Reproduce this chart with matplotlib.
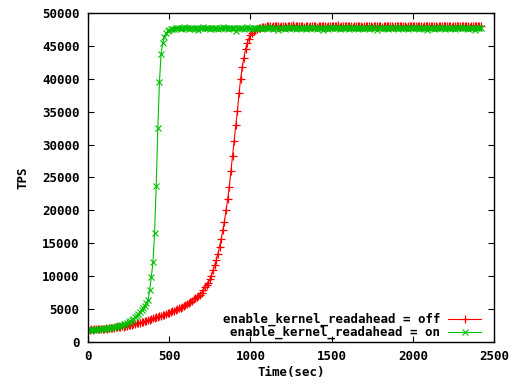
import matplotlib
matplotlib.use("Agg")
import matplotlib.pyplot as plt
from matplotlib.lines import Line2D
import numpy as np

# Sampling interval (sec)
step = 10

# TPS, enable_kernel_readahead = off (sampled every 10 s from t=0)
tps_off = [
    1850, 1800, 1900, 1850, 1950, 1900, 1950, 2000, 1950, 2050,
    2000, 2100, 2050, 2150, 2100, 2200, 2150, 2250, 2300, 2250,
    2350, 2400, 2350, 2450, 2500, 2580, 2550, 2650, 2700, 2750,
    2850, 2900, 2950, 3000, 3100, 3150, 3200, 3340, 3400, 3500,
    3600, 3650, 3750, 3800, 3900, 4000, 4050, 4150, 4300, 4400,
    4460, 4550, 4650, 4750, 4850, 5000, 5100, 5200, 5350, 5450,
    5600, 5750, 5950, 6100, 6300, 6500, 6650, 6800, 7000, 7200,
    7500, 7900, 8400, 8700, 9000, 9500, 10100, 10900, 11700, 12500,
    13400, 14500, 15600, 17000, 18300, 20000, 21700, 23600, 26000, 28300,
    30500, 33000, 35100, 37800, 40000, 41800, 43200, 44500, 45400, 46100,
    46600, 47000, 47200, 47400, 47500, 47650, 47750, 47800, 47850, 47900, 47950,
    47950, 48050, 47900, 48000, 48100, 47950, 48000, 47850, 48050, 48000,
    48100, 47900, 48000, 48050, 47950, 48150, 47900, 48000, 48050, 47950,
    48000, 48100, 47850, 48000, 48050, 47900, 48100, 48000, 47950, 48050,
    47900, 48000, 48100, 47950, 48050, 48000, 47850, 48100, 48000, 47950,
    48050, 47950, 48000, 48150, 47900, 48000, 48050, 47950, 48100, 48000,
    47950, 48050, 47900, 48000, 48100, 47950, 48000, 48050, 47850, 48000,
    48100, 47950, 48050, 48000, 47900, 48100, 48000, 47950, 48050, 48000,
    47900, 48050, 48000, 48100, 47950, 48000, 48050, 47900, 48100, 47950,
    48000, 48050, 47950, 48100, 48000, 47850, 48050, 48000, 47950, 48100,
    48000, 47950, 48050, 48000, 48100, 47900, 48000, 48050, 47950, 48000,
    48100, 47950, 48000, 48050, 47900, 48100, 48000, 47950, 48050, 48000,
    47950, 48050, 48000, 47900, 48100, 48000, 48050, 47950, 48000, 48100,
    48000, 47950, 48050, 48000, 47900, 48050, 48000, 48100, 47950, 48000,
    48050, 47950,
]

# TPS, enable_kernel_readahead = on (sampled every 10 s from t=0)
tps_on = [
    1800, 1750, 1850, 1800, 1900, 1850, 1950, 1900, 2000, 1950,
    2100, 2050, 2150, 2200, 2150, 2250, 2300, 2350, 2400, 2450,
    2550, 2600, 2700, 2800, 2950, 3050, 3200, 3350, 3550, 3750,
    4000, 4300, 4600, 4900, 5200, 5500, 5900, 6400, 7900, 9900,
    12100, 16600, 23700, 32500, 39500, 43800, 45400, 46300, 46900, 47200,
    47400, 47500, 47600,
    47600, 47700, 47650, 47750, 47600, 47700, 47800, 47650, 47700, 47550,
    47700, 47650, 47750, 47600, 47700, 47350, 47700, 47650, 47800, 47700,
    47650, 47750, 47600, 47700, 47650, 47700, 47750, 47600, 47700, 47650,
    47800, 47650, 47700, 47600, 47750, 47700, 47650, 47700, 47300, 47700,
    47650, 47750, 47700, 47600, 47700, 47800, 47650, 47700, 47600, 47750,
    47700, 47650, 47700, 47750, 47600, 47700, 47650, 47800, 47700, 47650,
    47700, 47600, 47750, 47700, 47400, 47650, 47700, 47750, 47600, 47700,
    47650, 47700, 47800, 47650, 47700, 47600, 47750, 47700, 47650, 47700,
    47750, 47600, 47700, 47650, 47700, 47800, 47650, 47700, 47600, 47750,
    47700, 47650, 47350, 47700, 47750, 47600, 47700, 47650, 47800, 47700,
    47650, 47700, 47600, 47750, 47700, 47650, 47700, 47800, 47600, 47700,
    47700, 47650, 47750, 47600, 47700, 47650, 47700, 47750, 47650, 47700,
    47600, 47700, 47800, 47650, 47700, 47400, 47700, 47650, 47750, 47700,
    47650, 47700, 47600, 47750, 47700, 47650, 47800, 47700, 47600, 47700,
    47700, 47650, 47750, 47700, 47600, 47700, 47650, 47700, 47800, 47650,
    47700, 47600, 47750, 47700, 47650, 47700, 47350, 47700, 47650, 47750,
    47600, 47700, 47650, 47800, 47700, 47650, 47700, 47600, 47750, 47700,
    47650, 47700, 47750, 47600, 47700, 47650, 47800, 47700, 47650, 47700,
    47700, 47600, 47750, 47650, 47700, 47400, 47650, 47700, 47750, 47650,
]

time_off = np.arange(len(tps_off)) * step
time_on = np.arange(len(tps_on)) * step

labels = ["enable_kernel_readahead = off", "enable_kernel_readahead = on"]
xticks = [0, 500, 1000, 1500, 2000, 2500]
yticks = [0, 5000, 10000, 15000, 20000, 25000, 30000, 35000, 40000, 45000, 50000]

RED = "#ff0000"
GREEN = "#00c000"
FONT = dict(family="DejaVu Sans Mono", weight="bold", size=9)

fig = plt.figure(figsize=(5.12, 3.84), dpi=100)
ax = fig.add_axes([88 / 512, 42 / 384, 406 / 512, 329 / 384])

ax.plot(time_off, tps_off, color=RED, lw=0.8, marker="+", ms=5.5, mew=0.9)
ax.plot(time_on, tps_on, color=GREEN, lw=0.8, marker="x", ms=4.5, mew=0.8)

ax.set_xlim(0, 2500)
ax.set_ylim(0, 50000)
ax.set_xticks(xticks)
ax.set_yticks(yticks)
ax.set_xticklabels([str(v) for v in xticks], fontdict=FONT)
ax.set_yticklabels([str(v) for v in yticks], fontdict=FONT)
ax.tick_params(direction="in", length=4, width=0.8, top=True, right=True,
               pad=6, colors="black")
for s in ax.spines.values():
    s.set_linewidth(1.0)

ax.set_xlabel("Time(sec)", fontdict=FONT, labelpad=2)
ax.set_ylabel("TPS", fontdict=FONT, labelpad=9)

# Legend (gnuplot style: right-aligned text, sample to the right)
entries = [(labels[0], RED, "+", 5.5, 0.9), (labels[1], GREEN, "x", 4.0, 0.8)]
ys = [0.070, 0.030]
for (lab, col, mk, ms, mew), yy in zip(entries, ys):
    ax.text(0.867, yy, lab, transform=ax.transAxes, ha="right", va="center", **FONT)
    ax.add_line(Line2D([0.887, 0.968], [yy, yy], transform=ax.transAxes,
                       color=col, lw=0.8))
    ax.add_line(Line2D([0.9275], [yy], transform=ax.transAxes, color=col,
                       marker=mk, ms=ms, mew=mew, lw=0))

fig.savefig("out.png", dpi=100)
